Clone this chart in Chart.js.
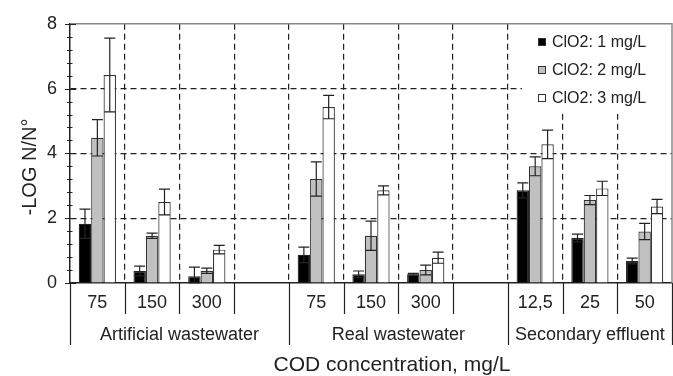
<!DOCTYPE html>
<html>
<head>
<meta charset="utf-8">
<script src="https://cdn.jsdelivr.net/npm/chart.js@4.4.0/dist/chart.umd.min.js"></script>
<style>
  html, body { margin: 0; padding: 0; background: #fff; }
</style>
</head>
<body>
<canvas id="chart" width="673" height="376"></canvas>
<script>
// slots on the x axis (empty string = spacer slot between groups)
const categories = ['75', '150', '300', '', '75', '150', '300', '', '12,5', '25', '50'];
const groupNames = ['Artificial wastewater', 'Real wastewater', 'Secondary effluent'];
const groupSlots = [[0, 3], [4, 7], [8, 10]];

const seriesNames = ['ClO2: 1 mg/L', 'ClO2: 2 mg/L', 'ClO2: 3 mg/L'];

const dose1 = [1.83, 0.37, 0.21, null, 0.87, 0.27, 0.27, null, 2.86, 1.39, 0.68];
const dose2 = [4.48, 1.46, 0.38, null, 3.21, 1.46, 0.40, null, 3.60, 2.56, 1.59];
const dose3 = [6.42, 2.50, 1.03, null, 5.43, 2.86, 0.78, null, 4.28, 2.92, 2.36];

const dose1Err = [0.45, 0.15, 0.28, null, 0.24, 0.10, 0.03, null, 0.23, 0.12, 0.09];
const dose2Err = [0.56, 0.08, 0.08, null, 0.53, 0.45, 0.15, null, 0.29, 0.14, 0.25];
const dose3Err = [1.14, 0.40, 0.13, null, 0.36, 0.14, 0.17, null, 0.44, 0.22, 0.22];

const yTicks = [0, 2, 4, 6, 8];

const FONT = '"Liberation Sans", Arial, sans-serif';
const INK = '#222';

const isMajor = v => Math.abs(v / 2 - Math.round(v / 2)) < 1e-6;

// error bars, axis decorations, group labels, titles and legend
const decor = {
    id: 'decor',
    afterDatasetsDraw(chart) {
        const ctx = chart.ctx;
        const y = chart.scales.y;
        const errs = [dose1Err, dose2Err, dose3Err];
        ctx.save();
        ctx.strokeStyle = INK;
        ctx.lineWidth = 1.2;
        chart.data.datasets.forEach((ds, d) => {
            const meta = chart.getDatasetMeta(d);
            meta.data.forEach((bar, i) => {
                const v = ds.data[i];
                const e = errs[d][i];
                if (v == null || e == null) return;
                const top = y.getPixelForValue(v + e);
                const bot = y.getPixelForValue(Math.max(0, v - e));
                ctx.beginPath();
                ctx.moveTo(bar.x, top);
                ctx.lineTo(bar.x, bot);
                ctx.moveTo(bar.x - 5.5, top);
                ctx.lineTo(bar.x + 5.5, top);
                ctx.moveTo(bar.x - 5.5, bot);
                ctx.lineTo(bar.x + 5.5, bot);
                ctx.stroke();
            });
        });
        ctx.restore();
    },
    afterDraw(chart) {
        const ctx = chart.ctx;
        const area = chart.chartArea;
        const x = chart.scales.x;
        const y = chart.scales.y;
        const slot = x.getPixelForValue(1) - x.getPixelForValue(0);
        const edge = i => x.getPixelForValue(0) + (i - 0.5) * slot;

        ctx.save();

        // legend box
        const lx = 522, ly = area.top;
        ctx.fillStyle = '#fff';
        ctx.fillRect(lx, ly, area.right - lx, 90);
        const fills = ['#000', '#c0c0c0', '#fff'];
        ctx.font = '16px ' + FONT;
        ctx.textBaseline = 'middle';
        ctx.textAlign = 'left';
        seriesNames.forEach((name, i) => {
            const cy = 42 + i * 28;
            ctx.fillStyle = fills[i];
            ctx.fillRect(538, cy - 4, 8, 8);
            ctx.strokeStyle = '#333';
            ctx.lineWidth = 1;
            ctx.strokeRect(538.5, cy - 3.5, 7, 7);
            ctx.fillStyle = INK;
            ctx.fillText(name, 552, cy + 1);
        });

        // top and right frame
        ctx.strokeStyle = '#8a8a8a';
        ctx.lineWidth = 1.5;
        ctx.beginPath();
        ctx.moveTo(area.left, area.top);
        ctx.lineTo(area.right, area.top);
        ctx.lineTo(area.right, area.bottom);
        ctx.stroke();

        // y tick marks crossing the axis
        ctx.strokeStyle = INK;
        ctx.lineWidth = 1;
        y.ticks.forEach(t => {
            const py = Math.round(y.getPixelForValue(t.value)) + 0.5;
            const major = isMajor(t.value);
            ctx.beginPath();
            ctx.moveTo(area.left - (major ? 5 : 3), py);
            ctx.lineTo(area.left + (major ? 6 : 2.5), py);
            ctx.stroke();
        });

        // category separators below the axis
        const longEdges = [0, 4, 8, 11];
        ctx.lineWidth = 1.2;
        for (let i = 0; i <= categories.length; i++) {
            const px = Math.round(edge(i)) + 0.5;
            const long = longEdges.includes(i);
            ctx.beginPath();
            ctx.moveTo(px, area.bottom);
            ctx.lineTo(px, area.bottom + (long ? 62 : 31));
            ctx.stroke();
        }

        // group labels
        ctx.fillStyle = INK;
        ctx.font = '18px ' + FONT;
        ctx.textAlign = 'center';
        groupNames.forEach((g, k) => {
            const [a, b] = groupSlots[k];
            ctx.fillText(g, (edge(a) + edge(b + 1)) / 2, area.bottom + 52);
        });

        // axis titles
        ctx.font = '21px ' + FONT;
        ctx.fillText('COD concentration, mg/L', (area.left + area.right) / 2 + 21, 365);
        ctx.translate(30, 167);
        ctx.rotate(-Math.PI / 2);
        ctx.font = '20px ' + FONT;
        ctx.fillText('-LOG N/N\u00B0', 0, 0);

        ctx.restore();
    }
};

new Chart(document.getElementById('chart'), {
    type: 'bar',
    data: {
        labels: categories,
        datasets: [
            { label: seriesNames[0], data: dose1, backgroundColor: '#000', borderColor: '#222', borderWidth: 1.2 },
            { label: seriesNames[1], data: dose2, backgroundColor: '#c0c0c0', borderColor: '#333', borderWidth: 1.2 },
            { label: seriesNames[2], data: dose3, backgroundColor: '#fff', borderColor: '#333', borderWidth: 1.2 },
        ]
    },
    options: {
        responsive: false,
        animation: false,
        devicePixelRatio: 1,
        layout: { padding: { top: 20, right: 1, left: 0, bottom: 0 } },
        datasets: { bar: { categoryPercentage: 0.68, barPercentage: 1 } },
        plugins: { legend: { display: false }, tooltip: { enabled: false } },
        scales: {
            x: {
                afterFit(scale) { scale.height = 93; },
                grid: {
                    offset: true,
                    drawTicks: false,
                    lineWidth: 1.2,
                    color: c => (c.index === undefined || c.index === 0) ? 'rgba(0,0,0,0)' : INK,
                },
                border: { color: INK, width: 1.5, dash: [6, 4] },
                ticks: {
                    autoSkip: false,
                    maxRotation: 0,
                    padding: 9,
                    color: INK,
                    font: { family: FONT, size: 18 },
                }
            },
            y: {
                min: 0,
                max: 8,
                afterFit(scale) { scale.width = 70; },
                grid: {
                    drawTicks: false,
                    lineWidth: 1.2,
                    color: c => (c.tick && isMajor(c.tick.value) && c.tick.value > 0 && c.tick.value < 8) ? INK : 'rgba(0,0,0,0)',
                },
                border: { color: INK, width: 1.5, dash: [6, 4] },
                ticks: {
                    stepSize: 0.4,
                    maxTicksLimit: 40,
                    autoSkip: false,
                    padding: 13,
                    color: INK,
                    font: { family: FONT, size: 18 },
                    callback: v => yTicks.find(t => Math.abs(t - v) < 1e-6) !== undefined ? String(Math.round(v)) : ''
                }
            }
        }
    },
    plugins: [decor]
});
</script>
</body>
</html>
